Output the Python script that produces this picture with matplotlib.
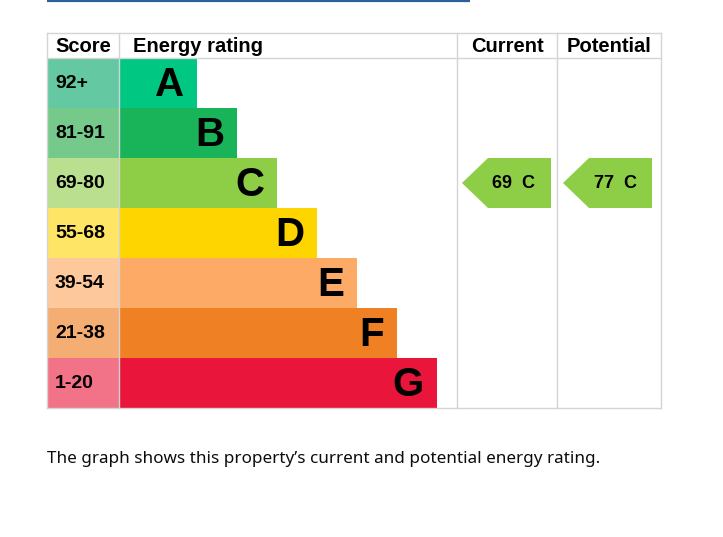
import matplotlib.pyplot as plt
from matplotlib.patches import Rectangle, Polygon

# band data
letters = ['A', 'B', 'C', 'D', 'E', 'F', 'G']
scores = ['92+', '81-91', '69-80', '55-68', '39-54', '21-38', '1-20']
barColors = ['#00c781', '#19b459', '#8dce46', '#ffd500', '#fcaa65', '#ef8023', '#e9153b']
scoreColors = ['#64c8a3', '#74c98b', '#badf8f', '#ffe566', '#fdc89b', '#f4ad73', '#f27288']
headers = ['Score', 'Energy rating', 'Current', 'Potential']
currentScore, currentBand = 69, 'C'
potentialScore, potentialBand = 77, 'C'
caption = 'The graph shows this property\u2019s current and potential energy rating.'

W, H = 723, 537
fig = plt.figure(figsize=(W/100, H/100), dpi=100)
ax = fig.add_axes([0, 0, 1, 1])
ax.set_xlim(0, W)
ax.set_ylim(H, 0)
ax.axis('off')

# table geometry (pixels)
left, colScore, colCur, colPot, right = 47, 119, 457, 557, 661
top, headBottom, rowH = 33, 58, 50
bottom = headBottom + rowH*len(letters)
grey = '#d4d4d4'
boldFont = 'Liberation Sans'

# rule at the very top
ax.plot([left, 470], [1, 1], color='#2f5f98', lw=1.6, solid_capstyle='butt')

for i, (letter, score) in enumerate(zip(letters, scores)):
    y0 = headBottom + i*rowH
    barEnd = colScore + 78 + 40*i
    ax.add_patch(Rectangle((left, y0), colScore-left, rowH, color=scoreColors[i], lw=0))
    ax.add_patch(Rectangle((colScore, y0), barEnd-colScore, rowH, color=barColors[i], lw=0))
    ax.text(55, y0 + rowH/2, score, fontsize=14, fontweight='bold', family=boldFont,
            ha='left', va='center')
    ax.text(barEnd - 13, y0 + rowH/2 + 2, letter, fontsize=29, fontweight='bold',
            family=boldFont, ha='right', va='center')

# grid lines
for x in [left, colScore, colCur, colPot, right]:
    ax.plot([x, x], [top, bottom], color=grey, lw=1)
ax.plot([left, right], [top, top], color=grey, lw=1)
ax.plot([left, right], [headBottom, headBottom], color=grey, lw=1)
ax.plot([left, right], [bottom, bottom], color=grey, lw=1)

# headers
hy = 47
ax.text(55, hy, headers[0], fontsize=14.5, fontweight='bold', family=boldFont, ha='left', va='center')
ax.text(133, hy, headers[1], fontsize=14.5, fontweight='bold', family=boldFont, ha='left', va='center')
ax.text((colCur+colPot)/2, hy, headers[2], fontsize=14.5, fontweight='bold', family=boldFont, ha='center', va='center')
ax.text((colPot+right)/2, hy, headers[3], fontsize=14.5, fontweight='bold', family=boldFont, ha='center', va='center')

def arrow(x0, score, band):
    i = letters.index(band)
    y0 = headBottom + i*rowH
    x1 = x0 + 89
    pts = [(x0, y0 + rowH/2), (x0 + 26, y0), (x1, y0), (x1, y0 + rowH), (x0 + 26, y0 + rowH)]
    ax.add_patch(Polygon(pts, closed=True, color=barColors[i], lw=0))
    ax.text(x0 + 52, y0 + rowH/2 + 1, f'{score}  {band}', fontsize=13, fontweight='bold',
            family=boldFont, ha='center', va='center')

arrow(462, currentScore, currentBand)
arrow(563, potentialScore, potentialBand)

ax.text(left, 459, caption, fontsize=12.3, family='Noto Sans', color='#0b0c0c',
        ha='left', va='center')

fig.savefig('out.png', dpi=100)
